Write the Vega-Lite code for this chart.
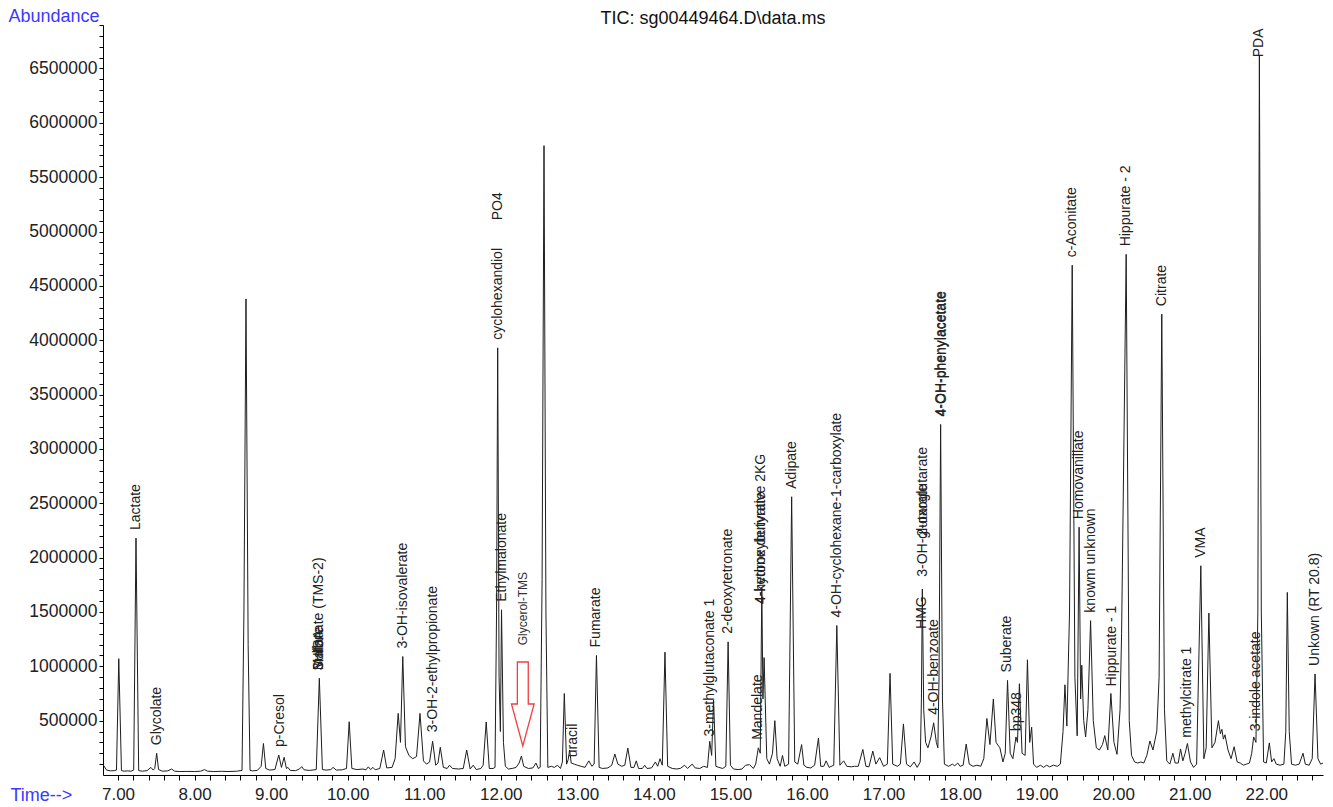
{
  "$schema": "https://vega.github.io/schema/vega-lite/v6.json",
  "width": 1220,
  "height": 750,
  "autosize": {"type": "none"},
  "padding": {"left": 103, "top": 25, "right": 10, "bottom": 32},
  "background": "white",
  "title": {
    "text": "TIC: sg00449464.D\\data.ms",
    "frame": "group",
    "anchor": "middle",
    "baseline": "alphabetic",
    "offset": 2,
    "dy": 37,
    "font": "Liberation Sans",
    "fontSize": 18,
    "fontWeight": "normal",
    "color": "#111111"
  },
  "config": {
    "view": {"stroke": null},
    "font": "Liberation Sans"
  },
  "datasets": {
    "tic": [
      {"t": 6.81, "a": 90000}, {"t": 6.85, "a": 45000}, {"t": 6.9, "a": 38000}, {"t": 6.95, "a": 40000},
      {"t": 6.98, "a": 45000}, {"t": 7.01, "a": 1070000}, {"t": 7.045, "a": 40000}, {"t": 7.08, "a": 35000},
      {"t": 7.12, "a": 38000}, {"t": 7.17, "a": 35000}, {"t": 7.205, "a": 45000}, {"t": 7.235, "a": 2180000},
      {"t": 7.27, "a": 40000}, {"t": 7.32, "a": 35000}, {"t": 7.38, "a": 40000}, {"t": 7.43, "a": 70000},
      {"t": 7.46, "a": 45000}, {"t": 7.48, "a": 60000}, {"t": 7.505, "a": 200000}, {"t": 7.53, "a": 50000},
      {"t": 7.58, "a": 35000}, {"t": 7.65, "a": 38000}, {"t": 7.7, "a": 55000}, {"t": 7.74, "a": 35000},
      {"t": 7.8, "a": 32000}, {"t": 7.9, "a": 33000}, {"t": 8.0, "a": 32000}, {"t": 8.08, "a": 35000},
      {"t": 8.13, "a": 50000}, {"t": 8.17, "a": 35000}, {"t": 8.25, "a": 32000}, {"t": 8.35, "a": 34000},
      {"t": 8.45, "a": 32000}, {"t": 8.55, "a": 35000}, {"t": 8.62, "a": 42000}, {"t": 8.645, "a": 1500000},
      {"t": 8.672, "a": 4380000}, {"t": 8.7, "a": 1200000}, {"t": 8.725, "a": 42000}, {"t": 8.76, "a": 38000},
      {"t": 8.82, "a": 42000}, {"t": 8.87, "a": 80000}, {"t": 8.9, "a": 290000}, {"t": 8.93, "a": 60000},
      {"t": 8.98, "a": 45000}, {"t": 9.05, "a": 50000}, {"t": 9.1, "a": 184000}, {"t": 9.135, "a": 70000},
      {"t": 9.17, "a": 163000}, {"t": 9.2, "a": 60000}, {"t": 9.22, "a": 70000}, {"t": 9.25, "a": 42000},
      {"t": 9.32, "a": 40000}, {"t": 9.37, "a": 55000}, {"t": 9.4, "a": 77000}, {"t": 9.43, "a": 48000},
      {"t": 9.5, "a": 42000}, {"t": 9.59, "a": 50000}, {"t": 9.63, "a": 890000}, {"t": 9.67, "a": 50000},
      {"t": 9.72, "a": 45000}, {"t": 9.78, "a": 50000}, {"t": 9.81, "a": 70000}, {"t": 9.85, "a": 45000},
      {"t": 9.93, "a": 48000}, {"t": 9.985, "a": 60000}, {"t": 10.02, "a": 490000}, {"t": 10.055, "a": 60000},
      {"t": 10.12, "a": 50000}, {"t": 10.2, "a": 55000}, {"t": 10.24, "a": 48000}, {"t": 10.27, "a": 75000},
      {"t": 10.3, "a": 50000}, {"t": 10.33, "a": 70000}, {"t": 10.36, "a": 48000}, {"t": 10.42, "a": 60000},
      {"t": 10.47, "a": 230000}, {"t": 10.51, "a": 65000}, {"t": 10.58, "a": 70000}, {"t": 10.62, "a": 150000},
      {"t": 10.66, "a": 567000}, {"t": 10.69, "a": 300000}, {"t": 10.72, "a": 1090000}, {"t": 10.755, "a": 260000},
      {"t": 10.8, "a": 180000}, {"t": 10.85, "a": 150000}, {"t": 10.9, "a": 170000}, {"t": 10.945, "a": 567000},
      {"t": 10.99, "a": 130000}, {"t": 11.03, "a": 100000}, {"t": 11.07, "a": 120000}, {"t": 11.11, "a": 310000},
      {"t": 11.15, "a": 90000}, {"t": 11.18, "a": 110000}, {"t": 11.21, "a": 255000}, {"t": 11.25, "a": 70000},
      {"t": 11.3, "a": 60000}, {"t": 11.33, "a": 90000}, {"t": 11.37, "a": 60000}, {"t": 11.45, "a": 55000},
      {"t": 11.51, "a": 60000}, {"t": 11.555, "a": 230000}, {"t": 11.6, "a": 55000}, {"t": 11.64, "a": 90000},
      {"t": 11.68, "a": 50000}, {"t": 11.74, "a": 60000}, {"t": 11.77, "a": 90000}, {"t": 11.81, "a": 488000},
      {"t": 11.85, "a": 60000}, {"t": 11.9, "a": 60000}, {"t": 11.925, "a": 70000}, {"t": 11.945, "a": 1500000},
      {"t": 11.96, "a": 3930000}, {"t": 11.978, "a": 900000}, {"t": 11.995, "a": 400000}, {"t": 12.01, "a": 1520000},
      {"t": 12.035, "a": 300000}, {"t": 12.06, "a": 80000}, {"t": 12.1, "a": 55000}, {"t": 12.15, "a": 60000},
      {"t": 12.2, "a": 70000}, {"t": 12.24, "a": 110000}, {"t": 12.27, "a": 175000}, {"t": 12.3, "a": 80000},
      {"t": 12.36, "a": 60000}, {"t": 12.42, "a": 65000}, {"t": 12.46, "a": 110000}, {"t": 12.49, "a": 60000},
      {"t": 12.515, "a": 70000}, {"t": 12.54, "a": 1800000}, {"t": 12.565, "a": 5790000}, {"t": 12.59, "a": 1500000},
      {"t": 12.615, "a": 70000}, {"t": 12.66, "a": 80000}, {"t": 12.7, "a": 70000}, {"t": 12.74, "a": 90000},
      {"t": 12.78, "a": 60000}, {"t": 12.805, "a": 120000}, {"t": 12.83, "a": 750000}, {"t": 12.86, "a": 100000},
      {"t": 12.88, "a": 140000}, {"t": 12.9, "a": 230000}, {"t": 12.92, "a": 110000}, {"t": 12.96, "a": 100000},
      {"t": 13.0, "a": 90000}, {"t": 13.05, "a": 80000}, {"t": 13.1, "a": 70000}, {"t": 13.15, "a": 130000},
      {"t": 13.19, "a": 80000}, {"t": 13.22, "a": 100000}, {"t": 13.25, "a": 1100000}, {"t": 13.285, "a": 70000},
      {"t": 13.33, "a": 60000}, {"t": 13.4, "a": 65000}, {"t": 13.45, "a": 90000}, {"t": 13.49, "a": 193000},
      {"t": 13.53, "a": 100000}, {"t": 13.58, "a": 80000}, {"t": 13.62, "a": 90000}, {"t": 13.66, "a": 248000},
      {"t": 13.7, "a": 70000}, {"t": 13.74, "a": 70000}, {"t": 13.77, "a": 130000}, {"t": 13.8, "a": 60000},
      {"t": 13.85, "a": 60000}, {"t": 13.88, "a": 90000}, {"t": 13.91, "a": 60000}, {"t": 13.97, "a": 65000},
      {"t": 14.02, "a": 120000}, {"t": 14.05, "a": 80000}, {"t": 14.08, "a": 150000}, {"t": 14.11, "a": 90000},
      {"t": 14.145, "a": 1130000}, {"t": 14.18, "a": 80000}, {"t": 14.24, "a": 60000}, {"t": 14.3, "a": 55000},
      {"t": 14.35, "a": 62000}, {"t": 14.4, "a": 90000}, {"t": 14.44, "a": 60000}, {"t": 14.5, "a": 100000},
      {"t": 14.54, "a": 65000}, {"t": 14.6, "a": 60000}, {"t": 14.65, "a": 80000}, {"t": 14.7, "a": 70000},
      {"t": 14.73, "a": 310000}, {"t": 14.755, "a": 180000}, {"t": 14.78, "a": 690000}, {"t": 14.81, "a": 80000},
      {"t": 14.85, "a": 70000}, {"t": 14.9, "a": 60000}, {"t": 14.94, "a": 80000}, {"t": 14.97, "a": 1225000},
      {"t": 15.0, "a": 90000}, {"t": 15.04, "a": 55000}, {"t": 15.1, "a": 50000}, {"t": 15.15, "a": 55000},
      {"t": 15.2, "a": 90000}, {"t": 15.25, "a": 95000}, {"t": 15.3, "a": 60000}, {"t": 15.33, "a": 100000},
      {"t": 15.365, "a": 250000}, {"t": 15.39, "a": 200000}, {"t": 15.41, "a": 1720000}, {"t": 15.425, "a": 700000},
      {"t": 15.44, "a": 1080000}, {"t": 15.475, "a": 150000}, {"t": 15.51, "a": 100000}, {"t": 15.55, "a": 200000},
      {"t": 15.58, "a": 500000}, {"t": 15.61, "a": 150000}, {"t": 15.65, "a": 80000}, {"t": 15.68, "a": 180000},
      {"t": 15.71, "a": 80000}, {"t": 15.76, "a": 100000}, {"t": 15.8, "a": 2560000}, {"t": 15.84, "a": 120000},
      {"t": 15.88, "a": 100000}, {"t": 15.93, "a": 280000}, {"t": 15.96, "a": 90000}, {"t": 16.0, "a": 70000},
      {"t": 16.05, "a": 65000}, {"t": 16.1, "a": 90000}, {"t": 16.15, "a": 340000}, {"t": 16.18, "a": 80000},
      {"t": 16.22, "a": 80000}, {"t": 16.25, "a": 130000}, {"t": 16.29, "a": 70000}, {"t": 16.35, "a": 90000},
      {"t": 16.39, "a": 1375000}, {"t": 16.43, "a": 90000}, {"t": 16.48, "a": 130000}, {"t": 16.52, "a": 80000},
      {"t": 16.58, "a": 75000}, {"t": 16.62, "a": 80000}, {"t": 16.67, "a": 80000}, {"t": 16.73, "a": 235000},
      {"t": 16.77, "a": 80000}, {"t": 16.81, "a": 75000}, {"t": 16.86, "a": 220000}, {"t": 16.9, "a": 100000},
      {"t": 16.95, "a": 160000}, {"t": 17.0, "a": 80000}, {"t": 17.05, "a": 100000}, {"t": 17.085, "a": 935000},
      {"t": 17.12, "a": 100000}, {"t": 17.18, "a": 80000}, {"t": 17.22, "a": 100000}, {"t": 17.26, "a": 470000},
      {"t": 17.3, "a": 100000}, {"t": 17.35, "a": 75000}, {"t": 17.4, "a": 120000}, {"t": 17.44, "a": 70000},
      {"t": 17.48, "a": 120000}, {"t": 17.495, "a": 700000}, {"t": 17.507, "a": 1710000}, {"t": 17.525, "a": 600000},
      {"t": 17.55, "a": 300000}, {"t": 17.58, "a": 250000}, {"t": 17.62, "a": 350000}, {"t": 17.655, "a": 480000},
      {"t": 17.69, "a": 300000}, {"t": 17.71, "a": 250000}, {"t": 17.725, "a": 900000}, {"t": 17.746, "a": 3225000},
      {"t": 17.77, "a": 700000}, {"t": 17.795, "a": 100000}, {"t": 17.85, "a": 80000}, {"t": 17.9, "a": 100000},
      {"t": 17.93, "a": 85000}, {"t": 17.97, "a": 110000}, {"t": 18.0, "a": 80000}, {"t": 18.04, "a": 90000},
      {"t": 18.08, "a": 285000}, {"t": 18.12, "a": 100000}, {"t": 18.17, "a": 80000}, {"t": 18.22, "a": 90000},
      {"t": 18.27, "a": 80000}, {"t": 18.31, "a": 150000}, {"t": 18.35, "a": 520000}, {"t": 18.39, "a": 280000},
      {"t": 18.435, "a": 700000}, {"t": 18.47, "a": 300000}, {"t": 18.52, "a": 250000}, {"t": 18.56, "a": 120000},
      {"t": 18.59, "a": 200000}, {"t": 18.62, "a": 870000}, {"t": 18.655, "a": 200000}, {"t": 18.69, "a": 150000},
      {"t": 18.73, "a": 350000}, {"t": 18.75, "a": 300000}, {"t": 18.775, "a": 840000}, {"t": 18.81, "a": 200000},
      {"t": 18.85, "a": 180000}, {"t": 18.88, "a": 1060000}, {"t": 18.91, "a": 300000}, {"t": 18.935, "a": 440000},
      {"t": 18.96, "a": 100000}, {"t": 19.0, "a": 70000}, {"t": 19.05, "a": 90000}, {"t": 19.09, "a": 70000},
      {"t": 19.13, "a": 90000}, {"t": 19.17, "a": 75000}, {"t": 19.22, "a": 90000}, {"t": 19.27, "a": 80000},
      {"t": 19.31, "a": 100000}, {"t": 19.345, "a": 400000}, {"t": 19.37, "a": 830000}, {"t": 19.395, "a": 450000},
      {"t": 19.43, "a": 1500000}, {"t": 19.465, "a": 4690000}, {"t": 19.5, "a": 900000}, {"t": 19.53, "a": 360000},
      {"t": 19.555, "a": 2280000}, {"t": 19.575, "a": 700000}, {"t": 19.59, "a": 1010000}, {"t": 19.615, "a": 500000},
      {"t": 19.64, "a": 350000}, {"t": 19.67, "a": 600000}, {"t": 19.705, "a": 1420000}, {"t": 19.74, "a": 500000},
      {"t": 19.78, "a": 250000}, {"t": 19.82, "a": 230000}, {"t": 19.86, "a": 280000}, {"t": 19.89, "a": 362000},
      {"t": 19.93, "a": 230000}, {"t": 19.97, "a": 750000}, {"t": 20.01, "a": 300000}, {"t": 20.05, "a": 190000},
      {"t": 20.09, "a": 600000}, {"t": 20.11, "a": 1300000}, {"t": 20.17, "a": 4790000}, {"t": 20.21, "a": 500000},
      {"t": 20.24, "a": 180000}, {"t": 20.28, "a": 120000}, {"t": 20.32, "a": 110000}, {"t": 20.36, "a": 120000},
      {"t": 20.4, "a": 110000}, {"t": 20.44, "a": 180000}, {"t": 20.48, "a": 313000}, {"t": 20.52, "a": 230000},
      {"t": 20.57, "a": 405000}, {"t": 20.6, "a": 900000}, {"t": 20.635, "a": 4240000}, {"t": 20.67, "a": 600000},
      {"t": 20.7, "a": 130000}, {"t": 20.74, "a": 100000}, {"t": 20.78, "a": 200000}, {"t": 20.81, "a": 110000},
      {"t": 20.85, "a": 110000}, {"t": 20.88, "a": 240000}, {"t": 20.91, "a": 130000}, {"t": 20.94, "a": 200000},
      {"t": 20.97, "a": 290000}, {"t": 21.01, "a": 120000}, {"t": 21.05, "a": 70000}, {"t": 21.09, "a": 100000},
      {"t": 21.145, "a": 1925000}, {"t": 21.185, "a": 150000}, {"t": 21.215, "a": 250000}, {"t": 21.25, "a": 1490000},
      {"t": 21.29, "a": 250000}, {"t": 21.33, "a": 300000}, {"t": 21.375, "a": 500000}, {"t": 21.4, "a": 380000},
      {"t": 21.42, "a": 420000}, {"t": 21.44, "a": 330000}, {"t": 21.46, "a": 370000}, {"t": 21.5, "a": 230000},
      {"t": 21.54, "a": 150000}, {"t": 21.58, "a": 260000}, {"t": 21.62, "a": 120000}, {"t": 21.66, "a": 110000},
      {"t": 21.7, "a": 90000}, {"t": 21.74, "a": 100000}, {"t": 21.78, "a": 110000}, {"t": 21.81, "a": 200000},
      {"t": 21.835, "a": 350000}, {"t": 21.865, "a": 300000}, {"t": 21.89, "a": 1500000}, {"t": 21.91, "a": 6620000},
      {"t": 21.935, "a": 1500000}, {"t": 21.965, "a": 120000}, {"t": 22.0, "a": 110000}, {"t": 22.04, "a": 295000},
      {"t": 22.07, "a": 120000}, {"t": 22.1, "a": 150000}, {"t": 22.13, "a": 100000}, {"t": 22.18, "a": 90000},
      {"t": 22.23, "a": 100000}, {"t": 22.255, "a": 400000}, {"t": 22.275, "a": 1680000}, {"t": 22.3, "a": 400000},
      {"t": 22.33, "a": 100000}, {"t": 22.38, "a": 90000}, {"t": 22.43, "a": 100000}, {"t": 22.48, "a": 200000},
      {"t": 22.51, "a": 100000}, {"t": 22.56, "a": 90000}, {"t": 22.6, "a": 150000}, {"t": 22.637, "a": 930000},
      {"t": 22.675, "a": 150000}, {"t": 22.71, "a": 100000}, {"t": 22.74, "a": 110000}
    ],
    "labels": [
      {"t": 7.235, "a": 2180000, "name": "Lactate"},
      {"t": 7.505, "a": 200000, "name": "Glycolate"},
      {"t": 9.11, "a": 184000, "name": "p-Cresol"},
      {"t": 9.63, "a": 890000, "name": "Malonate (TMS-2)"},
      {"t": 9.63, "a": 890000, "name": "3HIBA"},
      {"t": 9.63, "a": 890000, "name": "Sulfate"},
      {"t": 10.72, "a": 1090000, "name": "3-OH-isovalerate"},
      {"t": 11.11, "a": 320000, "name": "3-OH-2-ethylpropionate"},
      {"t": 11.96, "a": 3930000, "name": "cyclohexandiol"},
      {"t": 11.96, "a": 5030000, "name": "PO4"},
      {"t": 12.01, "a": 1520000, "name": "Ethylmalonate"},
      {"t": 12.29, "a": 1120000, "name": "Glycerol-TMS"},
      {"t": 12.945, "a": 90000, "name": "uracil"},
      {"t": 13.25, "a": 1100000, "name": "Fumarate"},
      {"t": 14.733, "a": 280000, "name": "3-methylglutaconate 1"},
      {"t": 14.97, "a": 1225000, "name": "2-deoxytetronate"},
      {"t": 15.365, "a": 250000, "name": "Mandelate"},
      {"t": 15.405, "a": 1500000, "name": "4-ketone derivative 2KG"},
      {"t": 15.405, "a": 1500000, "name": "4-hydroxybutyrate"},
      {"t": 15.8, "a": 2560000, "name": "Adipate"},
      {"t": 16.39, "a": 1375000, "name": "4-OH-cyclohexane-1-carboxylate"},
      {"t": 17.505, "a": 1270000, "name": "HMG"},
      {"t": 17.52, "a": 1750000, "name": "3-OH-glutarate"},
      {"t": 17.52, "a": 2120000, "name": "2-oxoglutarate"},
      {"t": 17.655, "a": 480000, "name": "4-OH-benzoate"},
      {"t": 17.746, "a": 3225000, "name": "4-OH-phenylacetate"},
      {"t": 17.758, "a": 3225000, "name": "4-OH-phenylacetate"},
      {"t": 18.615, "a": 870000, "name": "Suberate"},
      {"t": 18.74, "a": 330000, "name": "bp348"},
      {"t": 19.465, "a": 4690000, "name": "c-Aconitate"},
      {"t": 19.555, "a": 2280000, "name": "Homovanillate"},
      {"t": 19.705, "a": 1420000, "name": "knowm unknown"},
      {"t": 19.98, "a": 740000, "name": "Hippurate - 1"},
      {"t": 20.17, "a": 4790000, "name": "Hippurate - 2"},
      {"t": 20.635, "a": 4240000, "name": "Citrate"},
      {"t": 20.97, "a": 270000, "name": "methylcitrate 1"},
      {"t": 21.145, "a": 1925000, "name": "VMA"},
      {"t": 21.86, "a": 330000, "name": "3-indole acetate"},
      {"t": 21.91, "a": 6530000, "name": "PDA"},
      {"t": 22.637, "a": 930000, "name": "Unkown (RT 20.8)"}
    ],
    "marker": [
      {"t": 12.288, "a": 653000}
    ]
  },
  "encoding": {
    "x": {
      "field": "t",
      "type": "quantitative",
      "scale": {"domain": [6.804, 22.741], "nice": false, "zero": false},
      "axis": {
        "values": [7, 7.2, 7.4, 7.6, 7.8, 8, 8.2, 8.4, 8.6, 8.8, 9, 9.2, 9.4, 9.6, 9.8, 10, 10.2, 10.4, 10.6, 10.8, 11, 11.2, 11.4, 11.6, 11.8, 12, 12.2, 12.4, 12.6, 12.8, 13, 13.2, 13.4, 13.6, 13.8, 14, 14.2, 14.4, 14.6, 14.8, 15, 15.2, 15.4, 15.6, 15.8, 16, 16.2, 16.4, 16.6, 16.8, 17, 17.2, 17.4, 17.6, 17.8, 18, 18.2, 18.4, 18.6, 18.8, 19, 19.2, 19.4, 19.6, 19.8, 20, 20.2, 20.4, 20.6, 20.8, 21, 21.2, 21.4, 21.6, 21.8, 22, 22.2, 22.4, 22.6],
        "labelExpr": "abs(datum.value - round(datum.value)) < 0.001 ? format(datum.value, '.2f') : ''",
        "labelOverlap": false,
        "labelFlush": false,
        "labelFontSize": 17,
        "labelColor": "#222222",
        "labelPadding": 6,
        "tickSize": 5,
        "tickColor": "#000000",
        "domainColor": "#000000",
        "grid": false,
        "title": "Time-->",
        "titleX": -93,
        "titleY": 20,
        "titleAlign": "left",
        "titleBaseline": "middle",
        "titleColor": "#3a3aff",
        "titleFontSize": 18,
        "titleFontWeight": "normal"
      }
    },
    "y": {
      "field": "a",
      "type": "quantitative",
      "scale": {"domain": [0, 6900000], "nice": false},
      "axis": {
        "values": [100000, 200000, 300000, 400000, 500000, 600000, 700000, 800000, 900000, 1000000, 1100000, 1200000, 1300000, 1400000, 1500000, 1600000, 1700000, 1800000, 1900000, 2000000, 2100000, 2200000, 2300000, 2400000, 2500000, 2600000, 2700000, 2800000, 2900000, 3000000, 3100000, 3200000, 3300000, 3400000, 3500000, 3600000, 3700000, 3800000, 3900000, 4000000, 4100000, 4200000, 4300000, 4400000, 4500000, 4600000, 4700000, 4800000, 4900000, 5000000, 5100000, 5200000, 5300000, 5400000, 5500000, 5600000, 5700000, 5800000, 5900000, 6000000, 6100000, 6200000, 6300000, 6400000, 6500000, 6600000, 6700000, 6800000, 6900000],
        "labelExpr": "datum.value % 500000 === 0 ? format(datum.value, 'd') : ''",
        "labelOverlap": false,
        "labelFlush": false,
        "labelFontSize": 17.5,
        "labelColor": "#222222",
        "labelPadding": 2,
        "tickSize": 4,
        "tickColor": "#000000",
        "domainColor": "#000000",
        "grid": false,
        "title": "Abundance",
        "titleAngle": 0,
        "titleX": -95,
        "titleY": -9,
        "titleAlign": "left",
        "titleBaseline": "middle",
        "titleColor": "#3a3aff",
        "titleFontSize": 18,
        "titleFontWeight": "normal"
      }
    }
  },
  "layer": [
    {
      "data": {"name": "tic"},
      "mark": {"type": "line", "interpolate": "linear", "strokeWidth": 1, "color": "#1e1e1e", "clip": true}
    },
    {
      "data": {"name": "labels"},
      "transform": [{"filter": "datum.name !== 'Glycerol-TMS'"}],
      "mark": {"type": "text", "angle": 270, "align": "left", "baseline": "middle", "dx": 8, "font": "Liberation Sans", "fontSize": 14, "color": "#222222"},
      "encoding": {"text": {"field": "name", "type": "nominal"}}
    },
    {
      "data": {"name": "labels"},
      "transform": [{"filter": "datum.name === 'Glycerol-TMS'"}],
      "mark": {"type": "text", "angle": 270, "align": "left", "baseline": "middle", "dx": 8, "font": "Liberation Sans", "fontSize": 12, "color": "#333333"},
      "encoding": {"text": {"field": "name", "type": "nominal"}}
    },
    {
      "data": {"name": "marker"},
      "mark": {
        "type": "point",
        "shape": "M-0.13,-1L0.13,-1L0.13,0L0.27,0L0,1L-0.27,0L-0.13,0Z",
        "size": 7056,
        "filled": true,
        "fill": "#ffffff",
        "stroke": "#ee4040",
        "strokeWidth": 1.3,
        "opacity": 1
      }
    }
  ]
}
